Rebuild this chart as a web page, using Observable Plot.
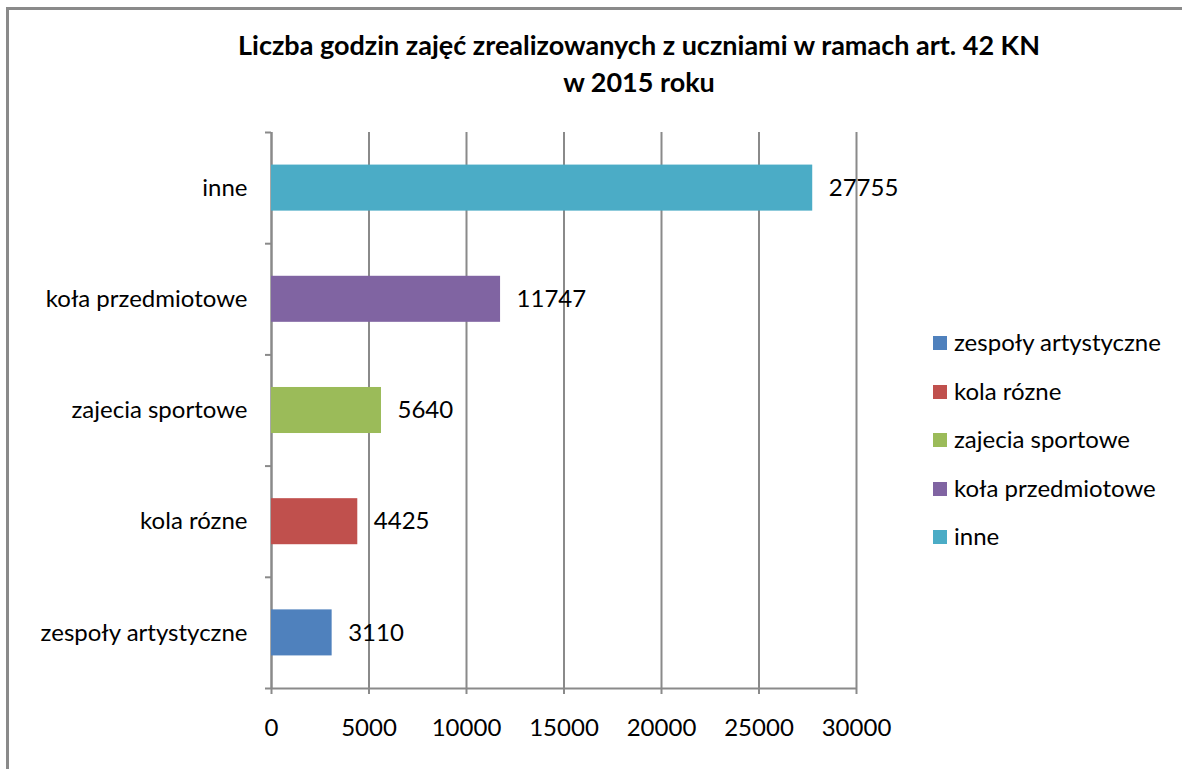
<!DOCTYPE html>
<html><head><meta charset="utf-8">
<script src="https://cdn.jsdelivr.net/npm/d3@7"></script>
<script src="https://cdn.jsdelivr.net/npm/@observablehq/plot@0.6"></script>
<style>
html,body{margin:0;background:#fff;font-family:Lato,sans-serif;overflow:hidden;}
#wrap{position:relative;width:1182px;height:769px;overflow:hidden;}
#hline{position:absolute;left:6px;top:7px;width:1250px;height:3px;background:#8a8a8a;}
#vline{position:absolute;left:6px;top:7px;width:3px;height:800px;background:#8a8a8a;}
#title{position:absolute;left:0;width:1278px;top:26px;text-align:center;font-weight:bold;font-size:27px;line-height:37px;color:#000;}
#chart{position:absolute;left:0;top:0;}
#legend{position:absolute;left:933px;top:327px;font-size:24px;color:#000;}
#legend div{height:48.5px;display:flex;align-items:flex-start;white-space:nowrap;}
#legend span.sw{display:inline-block;width:14px;height:14px;margin-right:7px;margin-top:9px;}
</style></head>
<body><div id="wrap"><div id="hline"></div><div id="vline"></div><div id="chart"></div>
<div id="title">Liczba godzin zajęć zrealizowanych z uczniami w ramach art. 42 KN<br>w 2015 roku</div>
<div id="legend"></div></div>
<script>
const categories = ["zespoły artystyczne","kola rózne","zajecia sportowe","koła przedmiotowe","inne"];
const values = [3110, 4425, 5640, 11747, 27755];
const colors = ["#4F81BD","#C0504D","#9BBB59","#8064A2","#4BACC6"];
const xTicks = [0,5000,10000,15000,20000,25000,30000];

const data = categories.map((c,i)=>({cat:c, i, v:values[i], col:colors[i]}));
const half = 0.207;
const bounds = d3.range(categories.length+1).map(k=>k-0.5);

const chart = Plot.plot({
  width:1182, height:769,
  marginLeft:271, marginRight:326, marginTop:132, marginBottom:81,
  style:{fontFamily:"Lato, sans-serif", fontSize:"24px", color:"#000", background:"transparent"},
  x:{domain:[0,30000]},
  y:{domain:[-0.5, categories.length-0.5]},
  marks:[
    Plot.gridX(xTicks,{stroke:"#8a8a8a", strokeOpacity:1, strokeWidth:2}),
    Plot.ruleX([0],{stroke:"#8a8a8a", strokeWidth:2}),
    Plot.ruleY([-0.5],{stroke:"#8a8a8a", strokeWidth:2}),
    Plot.axisX({ticks:xTicks, tickSize:6, tickPadding:24, tickFormat:d=>String(d), stroke:"#8a8a8a", strokeWidth:2, label:null, fontSize:24}),
    Plot.axisY({ticks:bounds, tickSize:6, tickFormat:()=>"", stroke:"#8a8a8a", strokeWidth:2, label:null}),
    Plot.axisY({ticks:d3.range(categories.length), tickSize:0, tickPadding:24, tickFormat:i=>categories[i], label:null, fontSize:24}),
    Plot.rectX(data,{x1:0, x2:"v", y1:d=>d.i-half, y2:d=>d.i+half, fill:"col"}),
    Plot.text(data,{x:"v", y:"i", text:d=>String(d.v), textAnchor:"start", dx:16, fontSize:24, fill:"#000"})
  ]
});
document.getElementById("chart").appendChild(chart);

const lg = document.getElementById("legend");
categories.forEach((c,i)=>{
  const r = document.createElement("div");
  r.innerHTML = `<span class="sw" style="background:${colors[i]}"></span><span>${c}</span>`;
  lg.appendChild(r);
});
</script></body></html>
